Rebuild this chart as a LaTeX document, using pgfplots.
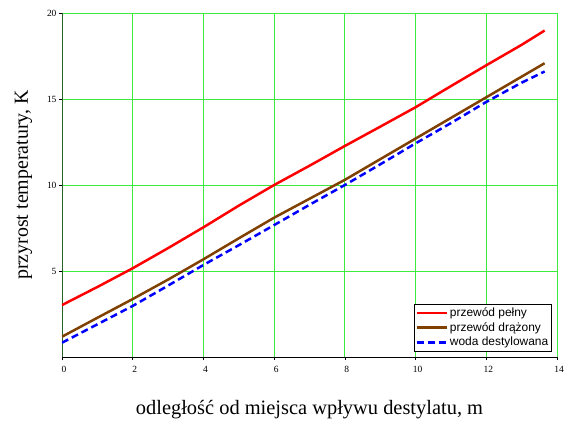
\documentclass[border=0pt]{standalone}
\usepackage{fontspec}
\setmainfont{Liberation Serif}
\newfontfamily\legfont{Liberation Sans}
\usepackage{pgfplots}
\pgfplotsset{compat=1.18}
\usetikzlibrary{calc}
\definecolor{gridgreen}{RGB}{60,235,60}
\definecolor{brownline}{RGB}{128,64,0}
\definecolor{yaxisgreen}{RGB}{40,100,40}
\begin{document}
\begin{tikzpicture}
\begin{axis}[name=ax,
  width=495bp, height=344bp, scale only axis,
  xmin=0, xmax=14, ymin=0, ymax=20,
  xtick={0,2,...,14}, ytick={5,10,15,20},
  axis x line=bottom, axis y line=left,
  axis line style={black, line width=0.8pt, -},
  y axis line style={yaxisgreen, line width=1pt},
  grid=major,
  major grid style={gridgreen, line width=1pt},
  tick style={black, line width=0.6pt},
  major tick length=3bp,
  tick align=outside,
  /pgf/number format/assume math mode=true,
  ticklabel style={font=\fontsize{9.5}{11}\selectfont},
  xticklabel style={yshift=-3bp, xshift=2bp},
  yticklabel style={xshift=1bp},
  xlabel={odległość od miejsca wpływu destylatu, m},
  ylabel={przyrost temperatury, K},
  xlabel style={font=\fontsize{20.5}{24}\selectfont, yshift=-21bp},
  ylabel style={font=\fontsize{20}{24}\selectfont, yshift=8bp},
  legend style={font=\legfont\fontsize{12}{14}\selectfont, at={(0.99,0.017)}, anchor=south east,
    draw=black, line width=0.6pt, inner sep=1.5bp, row sep=0.5bp, fill=white},
  legend cell align=left,
  legend image code/.code={\draw[#1, line width=2.5pt] (0bp,0bp) -- (30bp,0bp);},
]
\addplot[red, line width=2.5pt] coordinates {(0,3.02)(1,4.07)(2,5.16)(3,6.33)(4,7.54)(5,8.8)(6,10.0)(7,11.12)(8,12.27)(9,13.39)(10,14.52)(11,15.75)(12,16.96)(13,18.15)(13.65,18.98)};
\addlegendentry{przewód pełny}
\addplot[brownline, line width=2.5pt] coordinates {(0,1.18)(1,2.28)(2,3.37)(3,4.5)(4,5.68)(5,6.9)(6,8.1)(7,9.2)(8,10.3)(9,11.5)(10,12.7)(11,13.9)(12,15.1)(13,16.3)(13.65,17.08)};
\addlegendentry{przewód drążony}
\addplot[blue, line width=2.5pt, dash pattern=on 7bp off 4bp] coordinates {(0,0.83)(1,1.9)(2,2.97)(3,4.15)(4,5.35)(5,6.5)(6,7.67)(7,8.85)(8,10.0)(9,11.2)(10,12.42)(11,13.6)(12,14.83)(13,15.95)(13.65,16.6)};
\addlegendentry{woda destylowana}
\end{axis}
\pgfresetboundingbox
\path[use as bounding box] ($(ax.south west)+(-62bp,-64bp)$) rectangle ($(ax.north east)+(8bp,13bp)$);
\end{tikzpicture}
\end{document}
